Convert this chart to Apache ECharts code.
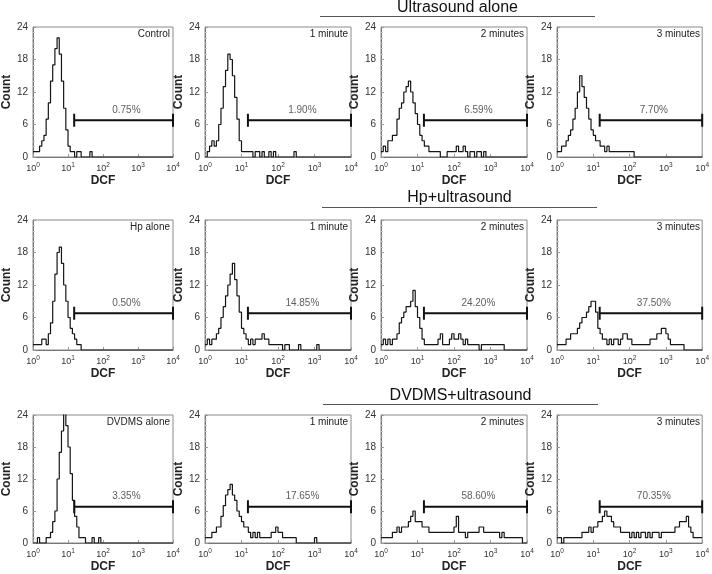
<!DOCTYPE html>
<html><head><meta charset="utf-8">
<script src="https://cdn.jsdelivr.net/npm/echarts@6/dist/echarts.min.js"></script>
<style>html,body{margin:0;padding:0;background:#fff}#c{width:712px;height:574px}</style>
</head><body><div id="c"></div>
<script>
// ---- data ----
const groupTitles = ['Ultrasound alone', 'Hp+ultrasound', 'DVDMS+ultrasound'];
const panelLabels = ['Control', '1 minute', '2 minutes', '3 minutes',
                     'Hp alone', '1 minute', '2 minutes', '3 minutes',
                     'DVDMS alone', '1 minute', '2 minutes', '3 minutes'];
const gatePercents = ['0.75%', '1.90%', '6.59%', '7.70%',
                      '0.50%', '14.85%', '24.20%', '37.50%',
                      '3.35%', '17.65%', '58.60%', '70.35%'];
const xTickExponents = {1: '0', 10: '1', 100: '2', 1000: '3', 10000: '4'};
const yMax = 24, yInterval = 6;
const gateStart = 15, gateEnd = 10000, gateLevel = 6.8;
const binsPerDecade = 16; // histogram bins, 16 per decade from 10^0 to 10^4

const control = [1,1,1,2,3,4,7,10,14,17,20,22,19,14,9,5, 2,1,1,0,1,1,0,0,0,0,1,0,0,0,0,0, 0,0,0,0,0,0,0,0,0,0,0,0,0,0,0,0, 0,0,0,0,0,0,0,0,0,0,0,0,0,0,0,0];
const us1 = [0,1,2,3,2,3,6,9,13,16,19,18,15,11,7,3, 1,1,1,1,1,0,1,1,0,1,0,0,1,0,1,0, 0,0,0,0,0,0,0,1,0,0,0,0,0,0,0,0, 0,0,0,0,0,0,0,0,0,0,0,0,0,0,0,0];
const us2 = [1,2,1,3,3,4,4,7,9,10,12,13,14,12,10,8, 6,4,3,2,2,1,1,1,1,1,0,0,0,1,1,1, 1,2,1,1,2,1,0,1,1,0,1,1,0,1,0,0, 0,0,0,0,0,0,0,0,0,0,0,0,0,0,0,0];
const us3 = [1,1,2,2,3,4,5,7,9,12,15,13,11,9,7,5, 4,3,3,2,2,1,2,1,1,1,1,1,1,1,1,1, 1,1,0,0,0,0,0,0,0,0,0,0,0,0,0,0, 0,0,0,0,0,0,0,0,0,0,0,0,0,0,0,0];
const hpAlone = [1,1,1,1,2,2,1,3,5,9,14,18,19,16,12,9, 6,4,3,2,1,1,0,0,0,0,0,0,0,0,0,0, 0,0,0,0,0,0,0,0,0,0,0,0,0,0,0,0, 0,0,0,0,0,0,0,0,0,0,0,0,0,0,0,0];
const hpUs1 = [1,2,1,2,2,3,4,6,8,10,12,14,16,13,10,7, 4,3,2,1,2,1,2,2,2,3,2,2,1,1,1,1, 1,1,0,1,1,0,0,0,0,1,0,0,0,0,0,0, 0,1,0,0,0,0,0,0,0,0,0,0,0,0,0,0];
const hpUs2 = [1,2,1,2,1,2,2,3,5,6,7,8,8,9,11,8, 6,4,2,1,1,1,1,1,1,2,3,1,1,1,2,3, 2,2,3,2,1,2,1,1,1,1,1,0,1,1,1,1, 1,1,1,1,1,1,0,0,0,0,0,0,0,0,0,0];
const hpUs3 = [1,1,1,1,2,2,3,3,3,4,5,6,6,7,8,9, 9,7,4,3,2,2,1,2,1,2,2,1,2,3,3,2, 2,1,1,1,1,1,1,1,1,2,2,2,3,3,4,4, 3,2,1,1,1,1,1,1,0,0,0,0,0,0,0,0];
const dvAlone = [0,0,1,0,0,0,1,1,2,4,6,12,17,21,26,22, 18,13,8,5,3,1,1,1,0,0,0,1,0,0,1,0, 0,0,0,0,0,0,0,0,0,0,0,0,0,0,0,0, 0,0,0,0,0,0,0,0,0,0,0,0,0,0,0,0];
const dvUs1 = [1,1,1,2,2,3,3,5,7,9,10,11,9,8,6,5, 4,3,3,2,1,2,1,2,1,1,1,1,1,2,2,3, 2,2,1,1,1,1,1,1,0,0,0,0,0,0,0,0, 1,0,0,0,0,0,0,0,0,0,0,0,0,0,0,0];
const dvUs2 = [1,1,1,1,1,2,2,3,2,3,3,3,4,5,6,4, 4,4,3,3,3,2,2,2,2,2,2,2,2,2,2,2, 3,5,2,2,2,1,2,2,2,2,2,3,3,2,2,2, 2,2,2,2,1,2,1,1,1,1,1,1,1,1,0,0];
const dvUs3 = [1,1,0,1,1,1,1,1,1,1,1,2,2,2,3,2, 3,3,4,4,5,6,5,5,4,3,3,3,2,2,2,2, 1,2,1,2,1,2,2,1,2,1,2,2,2,1,2,2, 2,2,2,2,3,3,4,4,4,5,3,2,1,1,1,1];
const histograms = [control, us1, us2, us3, hpAlone, hpUs1, hpUs2, hpUs3, dvAlone, dvUs1, dvUs2, dvUs3];

// ---- layout ----
const W = 712;
const colLeft = [27, 205, 381, 557];
const rowTop = [27, 220, 415];
const gw = 146, gh = 130;
const titleY = [8, 198, 396];
const titleLineY = [16.5, 207.5, 404.5];
const titleLineX = [[320, 595], [322, 597], [323, 598]];
const FONT = '"Liberation Sans", Arial, Helvetica, sans-serif';

const grids = [], xAxes = [], yAxes = [], series = [], titles = [];
histograms.forEach((bins, p) => {
  const r = Math.floor(p / 4), c = p % 4;
  grids.push({left: colLeft[c], top: rowTop[r], width: gw, height: gh,
    show: true, borderColor: '#8a8a8a', borderWidth: 1, backgroundColor: 'transparent'});
  xAxes.push({type: 'log', logBase: 10, min: 1, max: 10000, gridIndex: p,
    axisLine: {show: true, lineStyle: {color: '#777', width: 1}},
    axisTick: {show: true, inside: true, length: 3, lineStyle: {color: '#999'}},
    axisLabel: {fontSize: 10, color: '#333', margin: 5, fontFamily: FONT,
      formatter: v => { const e = xTickExponents[Math.round(v)]; return e === undefined ? '' : '{b|10}{s|' + e + '}'; },
      rich: {b: {fontSize: 9, color: '#333', fontFamily: FONT, verticalAlign: 'bottom', lineHeight: 11},
             s: {fontSize: 6.5, color: '#333', fontFamily: FONT, verticalAlign: 'top', lineHeight: 11}}},
    splitLine: {show: false},
    name: 'DCF', nameLocation: 'middle', nameGap: 18,
    nameTextStyle: {fontSize: 12, fontWeight: 'bold', color: '#222', fontFamily: FONT}});
  yAxes.push({type: 'value', min: 0, max: yMax, interval: yInterval, gridIndex: p,
    axisLine: {show: true, lineStyle: {color: '#777', width: 1}},
    axisTick: {show: true, inside: true, length: 3, lineStyle: {color: '#999'}},
    minorTick: {show: true, splitNumber: 6, length: 2, lineStyle: {color: '#c8c8c8'}},
    axisLabel: {fontSize: 10, color: '#333', margin: 5, fontFamily: FONT},
    splitLine: {show: false},
    name: 'Count', nameLocation: 'middle', nameGap: 14,
    nameTextStyle: {fontSize: 12, fontWeight: 'bold', color: '#222', fontFamily: FONT}});
  const pts = bins.map((v, i) => [Math.pow(10, i / binsPerDecade), v]);
  pts.push([10000, bins[bins.length - 1]]);
  series.push({type: 'line', xAxisIndex: p, yAxisIndex: p, step: 'end', symbol: 'none',
    data: pts, clip: true, silent: true, animation: false,
    lineStyle: {color: '#151515', width: 1.2}});
  series.push({type: 'line', xAxisIndex: p, yAxisIndex: p, symbol: 'none', clip: false,
    silent: true, animation: false, lineStyle: {color: '#111', width: 2},
    data: [[gateStart, gateLevel - 1.2], [gateStart, gateLevel + 1.2], [gateStart, gateLevel],
           [gateEnd, gateLevel], [gateEnd, gateLevel - 1.2], [gateEnd, gateLevel + 1.2]]});
  series.push({type: 'scatter', xAxisIndex: p, yAxisIndex: p, symbolSize: 0, silent: true,
    animation: false, data: [[Math.sqrt(gateStart * gateEnd) * 1.2, gateLevel + 1.9]],
    label: {show: true, position: 'inside', formatter: gatePercents[p], fontSize: 10,
      color: '#333', fontFamily: FONT}});
  titles.push({text: panelLabels[p], right: W - (colLeft[c] + gw) + 3, top: rowTop[r] + 2,
    padding: 0, textStyle: {fontSize: 10, fontWeight: 'normal', color: '#222', fontFamily: FONT}});
});

const graphics = [];
groupTitles.forEach((t, r) => {
  graphics.push({type: 'text', x: (titleLineX[r][0] + titleLineX[r][1]) / 2, y: titleY[r],
    style: {text: t, fontSize: 16, fill: '#111', fontFamily: FONT, textAlign: 'center', textVerticalAlign: 'middle'}});
  graphics.push({type: 'line', shape: {x1: titleLineX[r][0], y1: titleLineY[r], x2: titleLineX[r][1], y2: titleLineY[r]},
    style: {stroke: '#555', lineWidth: 1}});
});

const chart = echarts.init(document.getElementById('c'), null, {renderer: 'canvas'});
chart.setOption({
  animation: false,
  backgroundColor: '#fff',
  textStyle: {fontFamily: FONT},
  title: titles, grid: grids, xAxis: xAxes, yAxis: yAxes, series: series, graphic: graphics
});
</script>
</body></html>
